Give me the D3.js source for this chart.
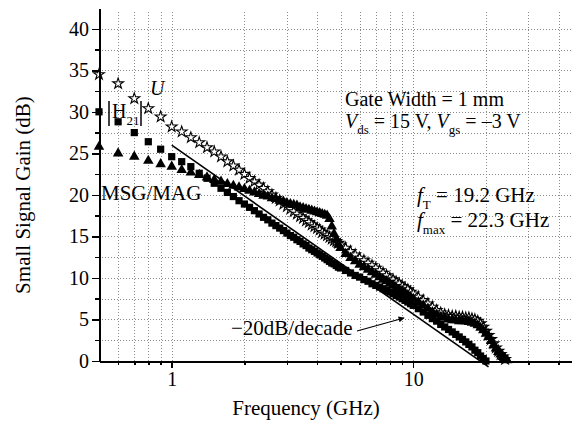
<!DOCTYPE html>
<meta charset="utf-8">
<style>
    body { margin: 0; background: #fff; }
    svg { font-family: "Liberation Serif", "Times New Roman", serif; }
    .axis path, .axis line { fill: none; stroke: #000; shape-rendering: crispEdges; }
    .axis path { stroke-width: 2px; }
    .axis line { stroke-width: 1.5px; }
    .axis text { font-size: 20px; font-family: "Liberation Serif", serif; fill: #000; }
    .grid line { stroke: #8a8a8a; stroke-width: 1px; stroke-dasharray: 1,2; shape-rendering: crispEdges; }
</style>
<body>
<script src="https://cdnjs.cloudflare.com/ajax/libs/d3/7.8.5/d3.min.js"></script>
<script>
    // frequency points (GHz)
    const freq = [0.5, 0.6, 0.7, 0.8, 0.9, 1.0, 1.1, 1.2, 1.3, 1.4, 1.5, 1.6, 1.7, 1.8, 1.9, 2.0,
        2.1, 2.2, 2.3, 2.4, 2.5, 2.6, 2.7, 2.8, 2.9, 3.0, 3.1, 3.2, 3.3, 3.4, 3.5, 3.6, 3.7, 3.8, 3.9, 4.0,
        4.1, 4.2, 4.3, 4.4, 4.5, 4.6, 4.7, 4.8, 4.9, 5.0,
        5.25, 5.5, 5.75, 6.0, 6.25, 6.5, 6.75, 7.0, 7.25, 7.5, 7.75, 8.0, 8.25, 8.5, 8.75, 9.0, 9.25, 9.5, 9.75, 10.0,
        10.5, 11, 11.5, 12, 12.5, 13, 13.5, 14, 14.5, 15, 15.5, 16, 16.5, 17, 17.5, 18, 18.5, 19, 19.5, 20,
        20.5, 21, 21.5, 22, 22.5, 23, 23.5, 24, 24.5, 25];

    // U (dB), stars
    const gainU = [34.5, 33.4, 31.6, 30.4, 29.4, 28.2, 27.6, 26.9, 26.3, 25.7, 25.2, 24.6, 24.0, 23.5, 23.0, 22.5,
        22.0, 21.6, 21.2, 20.8, 20.4, 20.0, 19.6, 19.3, 18.9, 18.6, 18.3, 18.0, 17.7, 17.4, 17.2, 16.9, 16.7, 16.4, 16.2, 16.0,
        15.8, 15.5, 15.3, 15.1, 14.9, 14.7, 14.5, 14.4, 14.2, 14.0,
        13.6, 13.2, 12.8, 12.4, 12.1, 11.8, 11.5, 11.2, 10.9, 10.6, 10.3, 10.0, 9.8, 9.5, 9.3, 9.0, 8.8, 8.6, 8.3, 8.1,
        7.7, 7.3, 6.9, 6.5, 6.1, 5.8, 5.6, 5.5, 5.4, 5.4, 5.3, 5.3, 5.2, 5.2, 5.1, 5.0, 4.8, 4.5, 4.1, 3.6,
        3.1, 2.6, 2.1, 1.6, 1.2, 0.8, 0.5, 0.2, null, null];

    // |H21| (dB), squares
    const gainH21 = [30.0, 28.8, 27.5, 26.4, 25.5, 24.6, 24.0, 23.4, 22.6, 22.0, 21.4, 20.8, 20.3, 19.8, 19.3, 18.9,
        18.5, 18.1, 17.7, 17.3, 17.0, 16.6, 16.3, 16.0, 15.7, 15.4, 15.1, 14.9, 14.6, 14.4, 14.1, 13.9, 13.6, 13.4, 13.2, 13.0,
        12.8, 12.6, 12.4, 12.2, 12.0, 11.8, 11.7, 11.5, 11.3, 11.2,
        10.9, 10.6, 10.3, 10.1, 9.8, 9.6, 9.3, 9.1, 8.9, 8.7, 8.5, 8.3, 8.1, 7.9, 7.7, 7.5, 7.3, 7.1, 6.9, 6.7,
        6.3, 5.9, 5.5, 5.1, 4.8, 4.4, 4.1, 3.8, 3.5, 3.2, 2.9, 2.6, 2.3, 2.0, 1.7, 1.3, 1.0, 0.6, 0.3, 0.0,
        null, null, null, null, null, null, null, null, null, null];

    // MSG/MAG (dB), triangles
    const gainMSG = [25.8, 25.0, 24.6, 24.1, 23.7, 23.4, 23.0, 22.7, 22.4, 22.1, 21.8, 21.6, 21.3, 21.1, 20.9, 20.7,
        20.5, 20.3, 20.1, 19.9, 19.8, 19.6, 19.5, 19.3, 19.2, 19.0, 18.9, 18.8, 18.7, 18.5, 18.4, 18.3, 18.2, 18.1, 18.0, 17.9,
        17.8, 17.7, 17.6, 17.5, 17.1, 16.2, 15.3, 14.6, 14.0, 13.6,
        12.9, 12.4, 12.0, 11.6, 11.3, 11.0, 10.7, 10.4, 10.1, 9.8, 9.6, 9.3, 9.1, 8.8, 8.6, 8.4, 8.2, 7.9, 7.7, 7.5,
        7.1, 6.7, 6.3, 5.9, 5.6, 5.3, 5.2, 5.0, 4.9, 4.9, 4.8, 4.8, 4.8, 4.7, 4.6, 4.5, 4.3, 4.0, 3.7, 3.3,
        2.9, 2.4, 1.9, 1.5, 1.1, 0.8, 0.5, 0.3, 0.1, null];

    // -20 dB/decade reference line end points [GHz, dB]
    const slopeLine = [[1.0, 26.0], [20.5, -0.7]];

    const xMajor = [1, 10];
    const xMinor = [0.6, 0.7, 0.8, 0.9, 2, 3, 4, 5, 6, 7, 8, 9, 20, 30, 40];
    const yMajor = [0, 5, 10, 15, 20, 25, 30, 35, 40];
    const yMinor = [2.5, 7.5, 12.5, 17.5, 22.5, 27.5, 32.5, 37.5];

    const width = 575, height = 427;

    const x = d3.scaleLog().domain([0.5, 45]).range([99, 571]);
    const y = d3.scaleLinear().domain([0, 42.5]).range([361, 8]);

    const svg = d3.select('body').append('svg')
        .attr('width', width)
        .attr('height', height);

    // grid
    const grid = svg.append('g').attr('class', 'grid');
    grid.selectAll('.gx')
        .data(xMinor.concat(xMajor))
        .enter().append('line')
        .attr('x1', d => Math.round(x(d)) + 0.5).attr('x2', d => Math.round(x(d)) + 0.5)
        .attr('y1', y(0)).attr('y2', 11);
    grid.selectAll('.gy')
        .data(yMajor.concat(yMinor).filter(d => d > 0))
        .enter().append('line')
        .attr('x1', x(0.5)).attr('x2', 571)
        .attr('y1', d => Math.round(y(d)) + 0.5).attr('y2', d => Math.round(y(d)) + 0.5);

    // series
    function pts(vals) {
        return freq.map((f, i) => ({f: f, v: vals[i]})).filter(d => d.v !== null);
    }

    const plot = svg.append('g');

    plot.append('g').selectAll('path')
        .data(pts(gainU))
        .enter().append('path')
        .attr('transform', d => 'translate(' + x(d.f) + ',' + y(d.v) + ')')
        .attr('d', d3.symbol().type(d3.symbolStar).size(36))
        .style('fill', '#fff')
        .style('stroke', '#000')
        .style('stroke-width', 1.1);

    plot.append('g').selectAll('path')
        .data(pts(gainH21))
        .enter().append('path')
        .attr('transform', d => 'translate(' + x(d.f) + ',' + y(d.v) + ')')
        .attr('d', d3.symbol().type(d3.symbolSquare).size(52))
        .style('fill', '#000');

    plot.append('g').selectAll('path')
        .data(pts(gainMSG))
        .enter().append('path')
        .attr('transform', d => 'translate(' + x(d.f) + ',' + y(d.v) + ')')
        .attr('d', d3.symbol().type(d3.symbolTriangle).size(48))
        .style('fill', '#000');

    // -20dB/decade line
    plot.append('path')
        .datum(slopeLine)
        .attr('d', d3.line().x(d => x(d[0])).y(d => y(d[1])))
        .style('fill', 'none')
        .style('stroke', '#000')
        .style('stroke-width', 1.6);

    // axes
    svg.append('g').attr('class', 'axis')
        .attr('transform', 'translate(0,' + y(0) + ')')
        .call(d3.axisBottom(x).tickValues(xMinor).tickSize(4).tickSizeOuter(0).tickFormat(''));
    svg.append('g').attr('class', 'axis')
        .attr('transform', 'translate(0,' + y(0) + ')')
        .call(d3.axisBottom(x).tickValues(xMajor).tickSize(7).tickSizeOuter(0).tickPadding(4).tickFormat(d3.format('d')));

    svg.append('g').attr('class', 'axis')
        .attr('transform', 'translate(' + x(0.5) + ',0)')
        .call(d3.axisLeft(y).tickValues(yMinor).tickSize(4).tickSizeOuter(0).tickFormat(''));
    svg.append('g').attr('class', 'axis')
        .attr('transform', 'translate(' + x(0.5) + ',0)')
        .call(d3.axisLeft(y).tickValues(yMajor).tickSize(7).tickSizeOuter(0).tickPadding(3));

    // axis titles
    svg.append('text')
        .attr('x', 306).attr('y', 415)
        .style('text-anchor', 'middle')
        .style('font-size', '21px')
        .text('Frequency (GHz)');

    svg.append('text')
        .attr('transform', 'translate(30,195) rotate(-90)')
        .style('text-anchor', 'middle')
        .style('font-size', '21px')
        .text('Small Signal Gain (dB)');

    // series labels
    svg.append('text')
        .attr('x', 150).attr('y', 95)
        .style('font-size', '20px').style('font-style', 'italic')
        .text('U');

    svg.append('line').attr('x1', 109).attr('x2', 109).attr('y1', 101).attr('y2', 126)
        .style('stroke', '#000').style('stroke-width', 1.5);
    svg.append('line').attr('x1', 141).attr('x2', 141).attr('y1', 101).attr('y2', 126)
        .style('stroke', '#000').style('stroke-width', 1.5);
    const h21 = svg.append('text').attr('x', 112).attr('y', 118).style('font-size', '20px');
    h21.append('tspan').text('H');
    h21.append('tspan').attr('dy', 7).style('font-size', '13px').text('21');

    svg.append('text')
        .attr('x', 101).attr('y', 200)
        .style('font-size', '21px')
        .text('MSG/MAG');

    // bias annotation
    svg.append('text')
        .attr('x', 345).attr('y', 106)
        .style('font-size', '20px')
        .text('Gate Width = 1 mm');

    const bias = svg.append('text').attr('x', 345).attr('y', 128).style('font-size', '20px');
    bias.append('tspan').style('font-style', 'italic').text('V');
    bias.append('tspan').attr('dy', 6).style('font-size', '13px').text('ds');
    bias.append('tspan').attr('dy', -6).text(' = 15 V, ');
    bias.append('tspan').style('font-style', 'italic').text('V');
    bias.append('tspan').attr('dy', 6).style('font-size', '13px').text('gs');
    bias.append('tspan').attr('dy', -6).text(' = \u20133 V');

    const ft = svg.append('text').attr('x', 417).attr('y', 202).style('font-size', '21px');
    ft.append('tspan').style('font-style', 'italic').text('f');
    ft.append('tspan').attr('dy', 7).style('font-size', '13px').text('T');
    ft.append('tspan').attr('dy', -7).text(' = 19.2 GHz');

    const fmax = svg.append('text').attr('x', 417).attr('y', 227).style('font-size', '21px');
    fmax.append('tspan').style('font-style', 'italic').text('f');
    fmax.append('tspan').attr('dy', 7).style('font-size', '13px').text('max');
    fmax.append('tspan').attr('dy', -7).text(' = 22.3 GHz');

    // slope label + arrow
    svg.append('text')
        .attr('x', 231).attr('y', 335)
        .style('font-size', '21px')
        .text('\u221220dB/decade');

    svg.append('defs').append('marker')
        .attr('id', 'arrow')
        .attr('viewBox', '0 0 10 10')
        .attr('refX', 9).attr('refY', 5)
        .attr('markerWidth', 9).attr('markerHeight', 6)
        .attr('markerUnits', 'userSpaceOnUse')
        .attr('orient', 'auto')
        .append('path').attr('d', 'M0,0 L10,5 L0,10 z').style('fill', '#000');

    svg.append('line')
        .attr('x1', 357).attr('y1', 331)
        .attr('x2', 404).attr('y2', 318)
        .style('stroke', '#000').style('stroke-width', 1.2)
        .attr('marker-end', 'url(#arrow)');
</script>
</body>
</html>
